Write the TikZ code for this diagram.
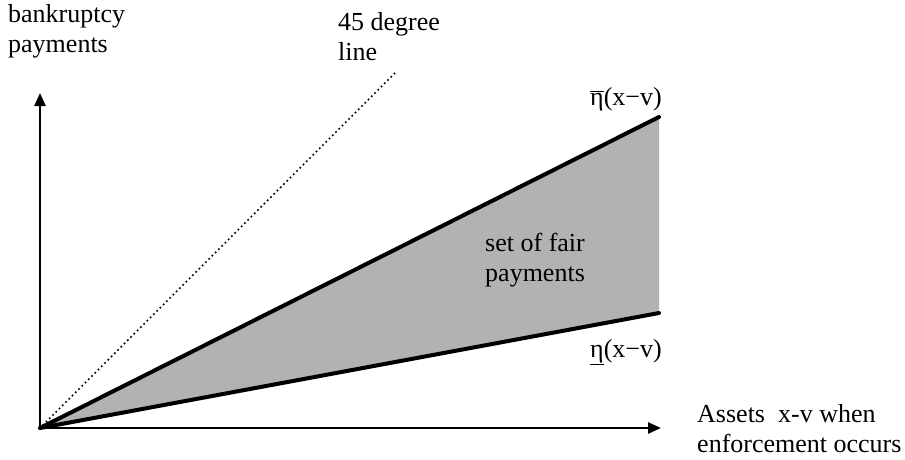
\documentclass[tikz,border=0pt]{standalone}
\usepackage{fontspec}
\setmainfont{Liberation Serif}
\usetikzlibrary{arrows.meta}
\newcommand\etabar{\ensuremath{\overline{\hbox{η}}}}
\begin{document}
\begin{tikzpicture}[x=1pt,y=-1pt,
  lbl/.style={inner sep=0pt,anchor=base west,align=left,font=\fontsize{26}{29.5}\selectfont},
  axis/.style={line width=2.6pt,-{Triangle[length=13pt,width=11pt]}},
  bound/.style={line width=4pt,line cap=round},
  fortyfive/.style={line width=2.3pt,line cap=round,dash pattern=on 0pt off 4.6pt}]
\useasboundingbox (0,0) rectangle (905,459);
\coordinate (O) at (40,428);
\coordinate (Ytip) at (40,93);
\coordinate (Xtip) at (661,428);
\coordinate (U) at (659,117);
\coordinate (L) at (659,313);
\coordinate (D) at (395,73);
\fill[black!30] (O) -- (U) -- (L) -- cycle;
\draw[fortyfive] (O) -- (D);
\draw[bound] (O) -- (U);
\draw[bound] (O) -- (L);
\draw[axis] (O) -- (Ytip);
\draw[axis] (O) -- (Xtip);
\node[lbl] (ylab) at (8,52) {bankruptcy\\payments};
\node[lbl] (dlab) at (338,60) {45 degree\\line};
\node[lbl] (xlab) at (697,452) {Assets\ \ x-v when\\enforcement occurs};
\node[lbl] (flab) at (485,281) {set of fair\\payments};
\node[lbl] (ulab) at (590,105) {\etabar(x−v)};
\node[lbl] (llab) at (590,357) {\underline{η}(x−v)};
\end{tikzpicture}
\end{document}
